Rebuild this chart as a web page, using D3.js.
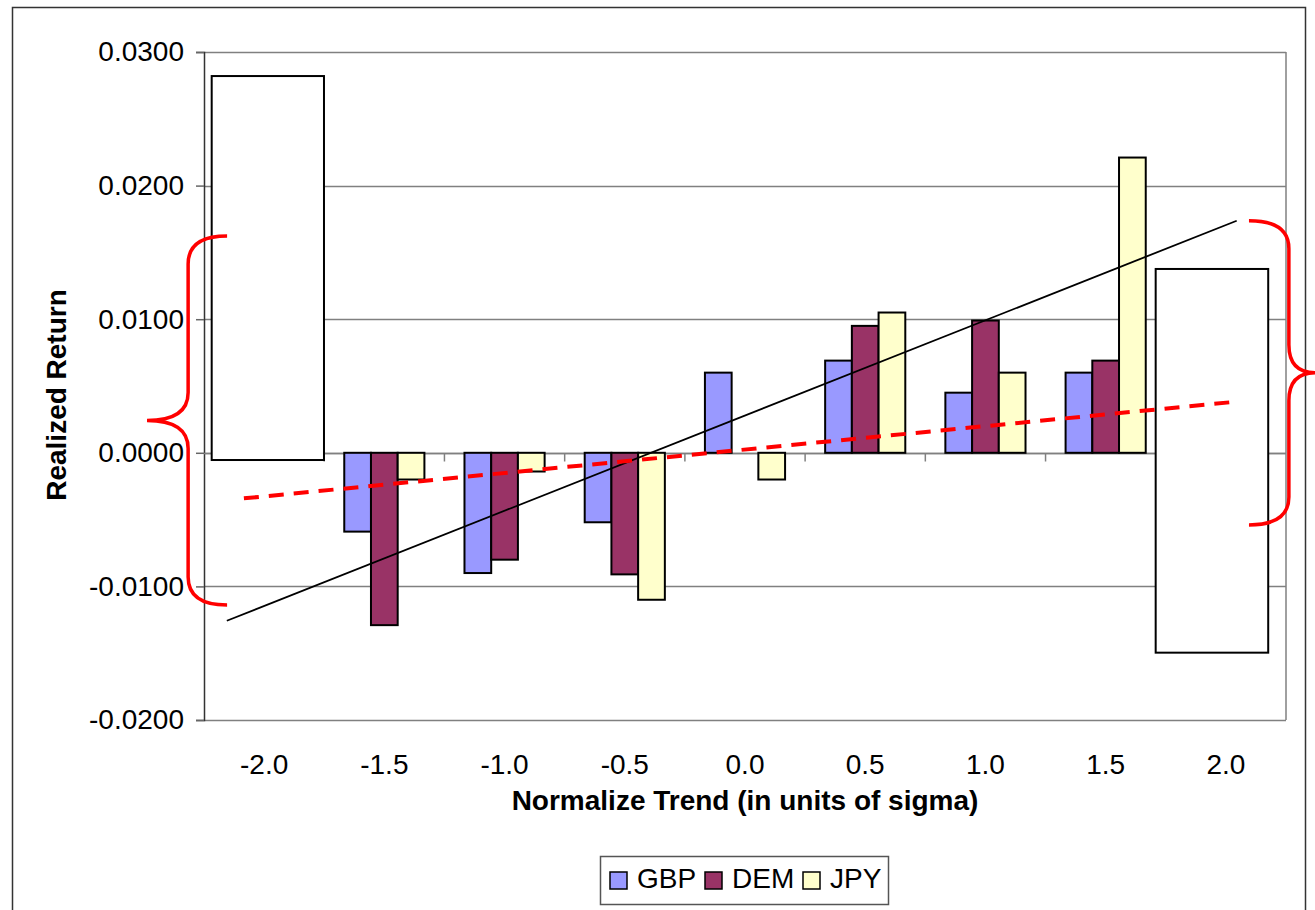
<!DOCTYPE html>
<html>
<head>
<meta charset="utf-8">
<script src="https://cdn.jsdelivr.net/npm/d3@7"></script>
<style>
  body { margin: 0; background: #fff; }
  text { font-family: "Liberation Sans", Arial, sans-serif; fill: #000; }
</style>
</head>
<body>
<div id="chart"></div>
<script>
// categories (normalized trend, in sigma)
const categories = ['-2.0', '-1.5', '-1.0', '-0.5', '0.0', '0.5', '1.0', '1.5', '2.0'];
const seriesNames = ['GBP', 'DEM', 'JPY'];
const seriesColors = ['#9999ff', '#993366', '#ffffcc'];

// realized returns (the -2.0 and 2.0 bars are hidden under the white boxes)
const gbp = [null, -0.0059, -0.0090, -0.0052, 0.0060, 0.0069, 0.0045, 0.0060, null];
const dem = [null, -0.0129, -0.0080, -0.0091, 0.0000, 0.0095, 0.0099, 0.0069, null];
const jpy = [null, -0.0020, -0.0014, -0.0110, -0.0020, 0.0105, 0.0060, 0.0221, null];

const yTicks = [0.03, 0.02, 0.01, 0, -0.01, -0.02];

// trend lines: [sigma, return] end points
const fitSolid = [[-2.155, -0.01257], [2.045, 0.01737]];
const fitDashed = [[-2.084, -0.00341], [2.040, 0.00382]];

// white boxes: [sigma from, sigma to, return top, return bottom]
const boxes = [
    [-2.218, -1.751, 0.0282, -0.00054],
    [1.708, 2.176, 0.01376, -0.01496]
];

// braces: end x, spine x, tip x (sigma), top, bottom (return)
const braces = [
    { end: -2.154, spine: -2.316, tip: -2.487, top: 0.01623, bottom: -0.01139 },
    { end: 2.096, spine: 2.262, tip: 2.372, top: 0.01737, bottom: -0.0054 }
];

const width = 1315;
const height = 910;
const plot = { left: 204, right: 1286, top: 52, bottom: 720 };

const svg = d3.select('#chart')
    .append('svg')
    .attr('width', width)
    .attr('height', height);

// outer chart frame
svg.append('rect')
    .attr('x', 12.5).attr('y', 7.5)
    .attr('width', 1293).attr('height', 940)
    .attr('fill', 'none')
    .attr('stroke', '#333')
    .attr('stroke-width', 1.5);

const x = d3.scaleBand().domain(categories).range([plot.left, plot.right]);
const xs = d3.scaleBand().domain(seriesNames).range([0, x.bandwidth()]).paddingOuter(0.75);
const xLin = d3.scaleLinear().domain([-2.25, 2.25]).range([plot.left, plot.right]);
const y = d3.scaleLinear().domain([-0.02, 0.03]).range([plot.bottom, plot.top]);

// gridlines
svg.append('g')
    .selectAll('line')
    .data(yTicks)
    .join('line')
    .attr('x1', plot.left).attr('x2', plot.right)
    .attr('y1', d => Math.round(y(d)) + 0.5).attr('y2', d => Math.round(y(d)) + 0.5)
    .attr('stroke', '#808080')
    .attr('stroke-width', 1.5);

// plot area right border
svg.append('line')
    .attr('x1', plot.right).attr('x2', plot.right)
    .attr('y1', plot.top).attr('y2', plot.bottom)
    .attr('stroke', '#808080')
    .attr('stroke-width', 1.5);

// y axis
const yAxis = d3.axisLeft(y)
    .tickValues(yTicks)
    .tickSize(8)
    .tickPadding(12)
    .tickFormat(d3.format('.4f'));

const yAxisG = svg.append('g')
    .attr('transform', `translate(${plot.left},0)`)
    .call(yAxis);
yAxisG.select('.domain').attr('stroke', '#333').attr('stroke-width', 1.5);
yAxisG.selectAll('.tick line').attr('stroke', '#666').attr('stroke-width', 1.5);
yAxisG.selectAll('.tick text')
    .attr('font-size', 28)
    .attr('font-family', '"Liberation Sans", Arial, sans-serif')
    .attr('fill', '#000')
    .text(d => d < 0 ? '-' + d3.format('.4f')(-d) : d3.format('.4f')(d));

// x axis line at zero with ticks between categories
const zeroY = Math.round(y(0)) + 0.5;
svg.append('line')
    .attr('x1', plot.left).attr('x2', plot.right)
    .attr('y1', zeroY).attr('y2', zeroY)
    .attr('stroke', '#808080')
    .attr('stroke-width', 1.5);

svg.append('g')
    .selectAll('line')
    .data(categories.slice(1))
    .join('line')
    .attr('x1', d => x(d)).attr('x2', d => x(d))
    .attr('y1', zeroY).attr('y2', zeroY + 8)
    .attr('stroke', '#808080')
    .attr('stroke-width', 1.5);

// x tick labels, below the plot area
svg.append('g')
    .selectAll('text')
    .data(categories)
    .join('text')
    .attr('x', d => x(d) + x.bandwidth() / 2)
    .attr('y', 774)
    .attr('text-anchor', 'middle')
    .attr('font-size', 28)
    .text(d => d);

// bars
const seriesValues = [gbp, dem, jpy];
const barData = [];
seriesValues.forEach((vals, si) => {
    vals.forEach((v, ci) => {
        if (v !== null) barData.push({ cat: categories[ci], series: seriesNames[si], color: seriesColors[si], value: v });
    });
});

svg.append('g')
    .selectAll('rect')
    .data(barData)
    .join('rect')
    .attr('x', d => x(d.cat) + xs(d.series))
    .attr('width', xs.bandwidth())
    .attr('y', d => y(Math.max(0, d.value)))
    .attr('height', d => Math.abs(y(d.value) - y(0)))
    .attr('fill', d => d.color)
    .attr('stroke', '#000')
    .attr('stroke-width', 2);

// white annotation boxes
svg.append('g')
    .selectAll('rect')
    .data(boxes)
    .join('rect')
    .attr('x', d => xLin(d[0]))
    .attr('width', d => xLin(d[1]) - xLin(d[0]))
    .attr('y', d => y(d[2]))
    .attr('height', d => y(d[3]) - y(d[2]))
    .attr('fill', '#fff')
    .attr('stroke', '#000')
    .attr('stroke-width', 2);

// trend lines
const line = d3.line().x(d => xLin(d[0])).y(d => y(d[1]));

svg.append('path')
    .datum(fitSolid)
    .attr('d', line)
    .attr('fill', 'none')
    .attr('stroke', '#000')
    .attr('stroke-width', 1.8);

svg.append('path')
    .datum(fitDashed)
    .attr('d', line)
    .attr('fill', 'none')
    .attr('stroke', '#ff0000')
    .attr('stroke-width', 4)
    .attr('stroke-dasharray', '15,10');

// curly braces
function bracePath(b) {
    const xe = xLin(b.end), xv = xLin(b.spine), xt = xLin(b.tip);
    const top = y(b.top), bot = y(b.bottom), mid = (top + bot) / 2;
    const r = 28;
    return `M${xe},${top} Q${xv},${top} ${xv},${top + r}` +
        ` L${xv},${mid - r} Q${xv},${mid} ${xt},${mid}` +
        ` Q${xv},${mid} ${xv},${mid + r}` +
        ` L${xv},${bot - r} Q${xv},${bot} ${xe},${bot}`;
}

svg.append('g')
    .selectAll('path')
    .data(braces)
    .join('path')
    .attr('d', bracePath)
    .attr('fill', 'none')
    .attr('stroke', '#ff0000')
    .attr('stroke-width', 3.5);

// axis titles
svg.append('text')
    .attr('transform', 'translate(66,395) rotate(-90)')
    .attr('text-anchor', 'middle')
    .attr('font-size', 28)
    .attr('font-weight', 'bold')
    .text('Realized Return');

svg.append('text')
    .attr('x', 745)
    .attr('y', 810)
    .attr('text-anchor', 'middle')
    .attr('font-size', 28)
    .attr('font-weight', 'bold')
    .text('Normalize Trend (in units of sigma)');

// legend
const legend = svg.append('g');
legend.append('rect')
    .attr('x', 600.5).attr('y', 856.5)
    .attr('width', 288).attr('height', 48)
    .attr('fill', '#fff')
    .attr('stroke', '#555')
    .attr('stroke-width', 1.5);

const legendX = [610, 705, 803];
const legendItems = legend.selectAll('g')
    .data(seriesNames)
    .join('g')
    .attr('transform', (d, i) => `translate(${legendX[i]},872)`);

legendItems.append('rect')
    .attr('width', 17).attr('height', 17)
    .attr('fill', (d, i) => seriesColors[i])
    .attr('stroke', '#000')
    .attr('stroke-width', 1.5);

legendItems.append('text')
    .attr('x', 27)
    .attr('y', 16)
    .attr('font-size', 28)
    .text(d => d);
</script>
</body>
</html>
